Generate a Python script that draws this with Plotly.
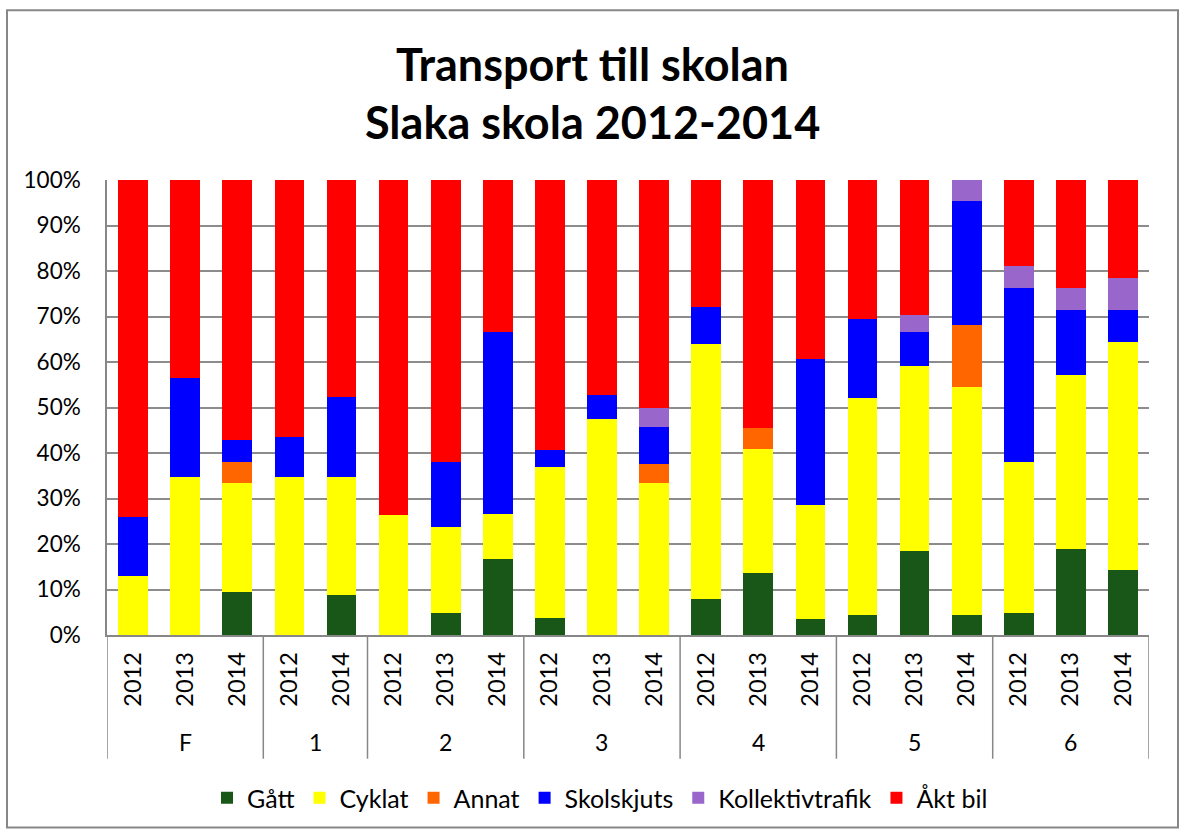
import plotly.graph_objects as go

# ---- data ----
groups = ["F", "F", "F", "1", "1", "2", "2", "2", "3", "3", "3",
          "4", "4", "4", "5", "5", "5", "6", "6", "6"]
years = ["2012", "2013", "2014", "2012", "2014", "2012", "2013", "2014",
         "2012", "2013", "2014", "2012", "2013", "2014", "2012", "2013",
         "2014", "2012", "2013", "2014"]

gatt =      [0, 0, 9.5, 0, 8.7, 0, 4.8, 16.7, 3.7, 0, 0, 8.0, 13.6, 3.6, 4.3, 18.5, 4.5, 4.8, 19.0, 14.3]
cyklat =    [13.0, 34.8, 23.8, 34.8, 26.1, 26.3, 19.0, 10.0, 33.3, 47.4, 33.3, 56.0, 27.3, 25.0, 47.8, 40.7, 50.0, 33.3, 38.1, 50.0]
annat =     [0, 0, 4.8, 0, 0, 0, 0, 0, 0, 0, 4.2, 0, 4.5, 0, 0, 0, 13.6, 0, 0, 0]
skolskjuts = [13.0, 21.7, 4.8, 8.7, 17.4, 0, 14.3, 40.0, 3.7, 5.3, 8.3, 8.0, 0, 32.1, 17.4, 7.4, 27.3, 38.1, 14.3, 7.1]
kollektiv = [0, 0, 0, 0, 0, 0, 0, 0, 0, 0, 4.2, 0, 0, 0, 0, 3.7, 4.5, 4.8, 4.8, 7.1]
akt_bil =   [74.0, 43.5, 57.1, 56.5, 47.8, 73.7, 61.9, 33.3, 59.3, 47.4, 50.0, 28.0, 54.5, 39.3, 30.4, 29.6, 0, 19.0, 23.8, 21.4]

series = [
    ("Gått", gatt, "#185717"),
    ("Cyklat", cyklat, "#FFFF00"),
    ("Annat", annat, "#FF6600"),
    ("Skolskjuts", skolskjuts, "#0000FF"),
    ("Kollektivtrafik", kollektiv, "#9966CC"),
    ("Åkt bil", akt_bil, "#FF0000"),
]

title_lines = ["Transport till skolan", "Slaka skola 2012-2014"]

FONT = "Lato"
keys = [f"{g}-{y}" for g, y in zip(groups, years)]

fig = go.Figure()
for name, vals, col in series:
    fig.add_trace(go.Bar(
        x=keys, y=vals, name=name,
        marker=dict(color=col, line=dict(width=0)),
    ))

# layout geometry (pixels)
W, H = 1182, 832
L, R, T, B = 107, 33, 180, 196
pw, ph = W - L - R, H - T - B

def px_x(p):
    return (p - L) / pw

def px_y(p):
    return (H - B - p) / ph

shapes = []
# group dividers
bounds = [0]
for i in range(1, len(groups)):
    if groups[i] != groups[i - 1]:
        bounds.append(i)
bounds.append(len(groups))
for b in bounds:
    shapes.append(dict(type="line", xref="x", yref="paper",
                       x0=b - 0.5, x1=b - 0.5, y0=0, y1=px_y(760),
                       line=dict(color="#878787", width=1.5)))
# outer chart border
shapes.append(dict(type="rect", xref="paper", yref="paper",
                   x0=px_x(7), x1=px_x(1178), y0=px_y(829), y1=px_y(10),
                   line=dict(color="#878787", width=2), layer="below"))

annotations = []
# group labels
start = 0
for i in range(1, len(groups) + 1):
    if i == len(groups) or groups[i] != groups[start]:
        annotations.append(dict(x=(start + i - 1) / 2, xref="x",
                                y=px_y(743), yref="paper", text=groups[start],
                                showarrow=False, font=dict(family=FONT, size=23, color="black"),
                                xanchor="center", yanchor="middle"))
        start = i
# title
for t, yp in zip(title_lines, [64, 122]):
    annotations.append(dict(x=px_x(592), xref="paper", y=px_y(yp), yref="paper",
                            text=f"<b>{t}</b>", showarrow=False,
                            font=dict(family=FONT, size=45, color="black"),
                            xanchor="center", yanchor="middle"))

fig.update_layout(
    width=W, height=H,
    margin=dict(l=L, r=R, t=T, b=B, pad=0),
    barmode="stack",
    bargap=0.43,
    plot_bgcolor="white",
    paper_bgcolor="white",
    font=dict(family=FONT, size=22, color="black"),
    shapes=shapes,
    annotations=annotations,
    legend=dict(orientation="h", x=px_x(600), xanchor="center",
                y=px_y(798), yanchor="middle",
                font=dict(family=FONT, size=25, color="black"),
                traceorder="normal", itemwidth=30),
    xaxis=dict(
        type="category", categoryorder="array", categoryarray=keys,
        tickmode="array", tickvals=keys, ticktext=years,
        tickangle=-90, showgrid=False, showline=True, linecolor="#878787",
        linewidth=1.5, ticks="", tickfont=dict(family=FONT, size=23.5),
        ticklabelstandoff=6, range=[-0.5, len(keys) - 0.5],
    ),
    yaxis=dict(
        range=[0, 100], dtick=10, ticksuffix="%", showgrid=True,
        gridcolor="#8C8C8C", gridwidth=1.5, showline=True, linecolor="#878787",
        linewidth=1.5, ticks="", zeroline=False,
        tickfont=dict(family=FONT, size=22.5), ticklabelstandoff=20,
    ),
)

fig.write_html("out.html", config={"displayModeBar": False},
               post_script="document.body.style.margin='0px';")
